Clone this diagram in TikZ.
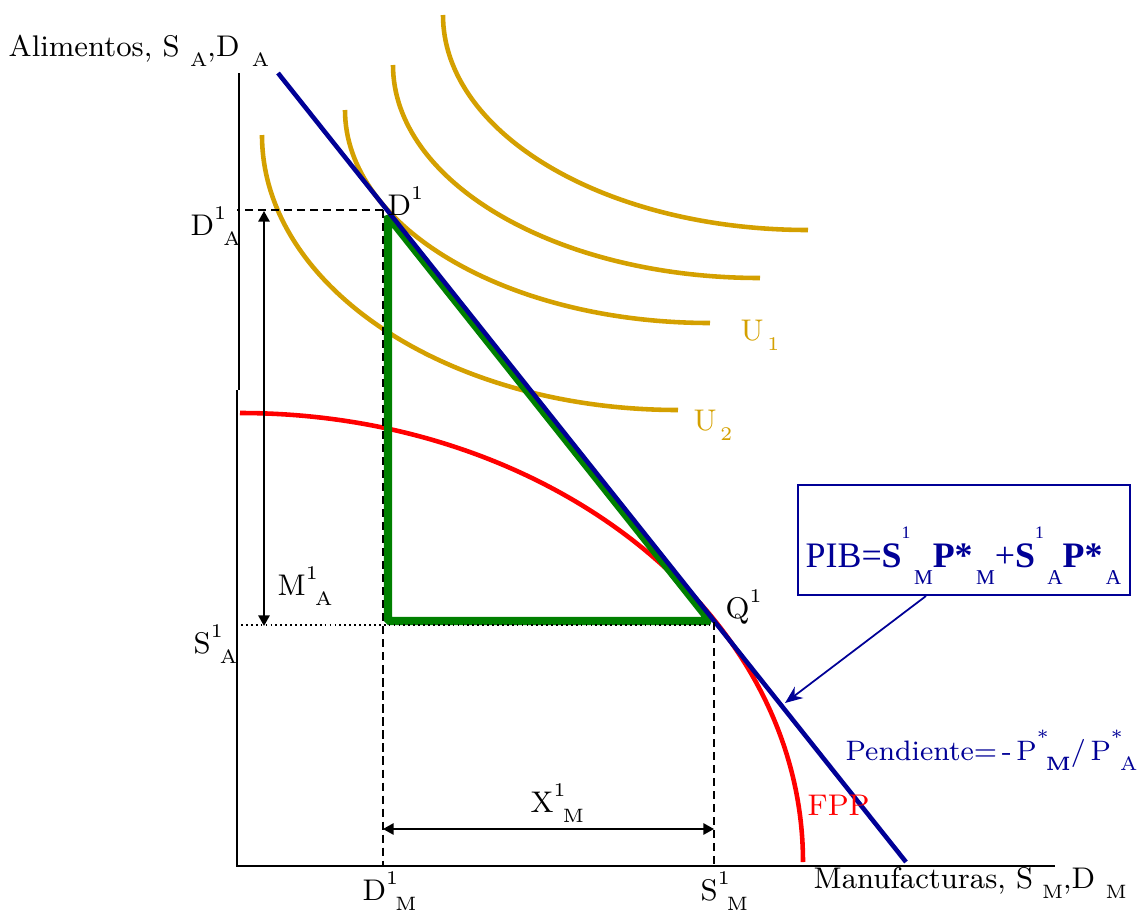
\documentclass[tikz,border=0pt]{standalone}
\usepackage{fontspec}
\newfontfamily\tiempos{Liberation Serif}
\usetikzlibrary{arrows.meta}

\definecolor{oro}{RGB}{212,160,0}
\definecolor{azul}{RGB}{0,0,150}
\definecolor{verde}{RGB}{0,128,0}

\newcommand{\arriba}[1]{\raisebox{4.4pt}{\fontsize{5.5}{6}\selectfont #1}}
\newcommand{\abajo}[1]{\raisebox{-3.0pt}{\fontsize{5.5}{6}\selectfont #1}}
\newcommand{\indice}[2]{\rlap{\arriba{#1}}\hspace{2.6pt}\abajo{#2}}
\newcommand{\pibind}[2]{\raisebox{8.0pt}{\fontsize{5}{6}\selectfont #1}\hspace{1pt}\raisebox{-5.1pt}{\fontsize{6}{6}\selectfont #2}}

\begin{document}
\begin{tikzpicture}[
    x=0.01cm, y=-0.01cm,
    >={Triangle[length=3pt,width=3.2pt]},
    eje/.style={line width=0.6pt},
    guia/.style={line width=0.5pt, dash pattern=on 2.3pt off 1.4pt},
    punteada/.style={line width=0.5pt, dash pattern=on 0.5pt off 0.9pt},
    indif/.style={oro, line width=1.3pt},
    cota/.style={<->, line width=0.5pt},
    etiqueta/.style={anchor=base west, inner sep=0pt, font=\fontsize{8.5}{10}\selectfont},
    caja/.style={rectangle, draw=azul, line width=0.7pt, minimum width=3.32cm, minimum height=1.10cm, inner sep=0pt},
]
\useasboundingbox (0,0) rectangle (1138,914);
% ---------- ejes ----------
\coordinate (O)     at (237,866);
\coordinate (ytop)  at (239,73);
\coordinate (yjog1) at (239,390);
\coordinate (yjog2) at (237,390);
\coordinate (xfin)  at (1055,866);
\draw[eje] (ytop) -- (yjog1);
\draw[eje] (yjog2) -- (O) -- (xfin);
% ---------- curvas de indiferencia ----------
\draw[indif] (262,135) arc[start angle=180, end angle=90, x radius=416, y radius=275];
\draw[indif] (345,110) arc[start angle=180, end angle=90, x radius=365, y radius=213];
\draw[indif] (393,65)  arc[start angle=180, end angle=90, x radius=367, y radius=213];
\draw[indif] (443,15)  arc[start angle=180, end angle=90, x radius=365, y radius=215];
% ---------- FPP ----------
\draw[red, line width=1.3pt] (240,413) arc[start angle=270, end angle=360, x radius=563, y radius=449];
% ---------- triangulo de comercio ----------
\coordinate (g1) at (388,216);
\coordinate (g2) at (388,621);
\coordinate (g3) at (710,621);
\draw[verde, line width=2.3pt, line join=bevel] (g1) -- (g2) -- (g3) -- cycle;
% ---------- recta de precios ----------
\coordinate (b0) at (278,73);
\coordinate (b1) at (906,862);
\draw[azul, line width=1.3pt] (b0) -- (b1);
% ---------- guias ----------
\coordinate (D1) at (383,210);
\coordinate (Q1) at (714,622);
\coordinate (sA) at (241,625);
\coordinate (sQ) at (714,625);
\draw[guia] (D1) -- (D1 -| O);
\draw[guia] (D1) -- (D1 |- O);
\draw[guia] (Q1) -- (Q1 |- O);
\draw[punteada] (sA) -- (sQ);
% ---------- cotas ----------
\coordinate (m0) at (264,211);
\coordinate (m1) at (264,626);
\coordinate (x0) at (383,829);
\coordinate (x1) at (714,829);
\draw[cota] (m0) -- (m1);
\draw[cota] (x0) -- (x1);
% ---------- PIB ----------
\node[caja] (pib) at (964,540) {};
\node[etiqueta, font=\tiempos\fontsize{10.2}{12}\selectfont, text=azul] (pibtxt) at (805,567)
  {PIB=\textbf{S}\pibind{1}{M}\textbf{P*}\pibind{}{M}+\textbf{S}\pibind{1}{A}\textbf{P*}\pibind{}{A}};
\coordinate (p0) at (926,596);
\coordinate (p1) at (785,703);
\draw[azul, line width=0.5pt, -{Stealth[length=5pt,width=4pt]}] (p0) -- (p1);
% ---------- etiquetas ----------
\node[etiqueta] (lalim) at (8,56)   {Alimentos, S\hspace{3pt}\abajo{A},D\hspace{3.5pt}\abajo{A}};
\node[etiqueta] (lmanu) at (813,888) {Manufacturas, S\hspace{2.5pt}\abajo{M},D\hspace{3pt}\abajo{M}};
\node[etiqueta] (lDA)   at (190,235) {D\indice{1}{A}};
\node[etiqueta] (lSA)   at (193,653) {S\indice{1}{A}};
\node[etiqueta] (lMA)   at (277,595) {M\indice{1}{A}};
\node[etiqueta] (lD1)   at (387,215) {D\arriba{1}};
\node[etiqueta] (lQ1)   at (725,618) {Q\arriba{1}};
\node[etiqueta] (lXM)   at (530,812) {X\indice{1}{M}};
\node[etiqueta] (lDM)   at (362,900) {D\indice{1}{M}};
\node[etiqueta] (lSM)   at (700,900) {S\indice{1}{M}};
\node[etiqueta, text=oro] (lU1) at (740,340) {U\hspace{1pt}\abajo{1}};
\node[etiqueta, text=oro] (lU2) at (693,430) {U\hspace{1pt}\abajo{2}};
\node[etiqueta, text=red] (lfpp) at (807,815) {FPP};
\node[etiqueta, text=azul, font=\fontsize{8}{10}\selectfont] (lpend) at (845,760) {Pendiente=\,-\,P\indice{*}{\textbf{M}}/\,P\indice{*}{A}};
\end{tikzpicture}
\end{document}
